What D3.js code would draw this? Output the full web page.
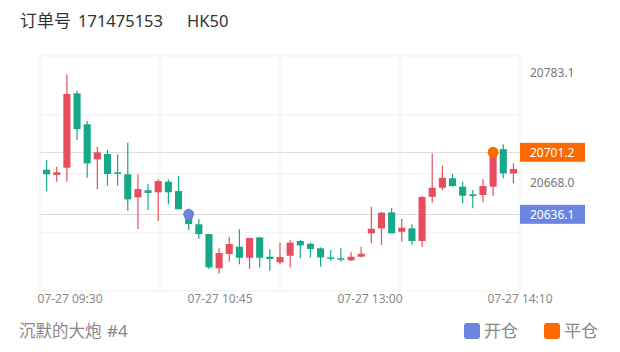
<!DOCTYPE html>
<html>
<head>
<meta charset="utf-8">
<script src="https://cdn.jsdelivr.net/npm/d3@7"></script>
<style>
  body { margin: 0; background: #fff; }
  svg { display: block; font-family: "Noto Sans", "Noto Sans CJK SC", sans-serif; }
</style>
</head>
<body>
<div class="chart"></div>
<script>
// 5 minute candles, red = up, green = down
var opens  = [20682.9, 20677.4, 20685.0, 20763.1, 20730.6, 20693.8, 20699.4, 20680.2, 20678.1, 20653.9,
              20661.3, 20659.2, 20670.3, 20660.6, 20638.5, 20625.6, 20615.4, 20579.4, 20594.4, 20602.1,
              20590.5, 20611.9, 20591.6, 20585.7, 20592.6, 20608.1, 20605.2, 20600.4, 20590.9, 20589.9,
              20587.8, 20591.6, 20616.1, 20621.4, 20638.2, 20617.8, 20621.4, 20608.1, 20654.5, 20664.0,
              20673.9, 20665.1, 20657.1, 20656.4, 20665.1, 20704.6, 20679.1];
var closes = [20678.1, 20680.2, 20762.4, 20725.6, 20689.6, 20701.2, 20678.4, 20679.1, 20651.8, 20662.6,
              20658.5, 20671.0, 20659.2, 20641.4, 20625.9, 20615.4, 20580.4, 20595.5, 20604.9, 20590.5,
              20611.2, 20590.5, 20589.2, 20591.3, 20606.3, 20603.5, 20599.7, 20590.9, 20589.9, 20588.4,
              20591.6, 20594.7, 20620.9, 20637.8, 20616.1, 20622.0, 20608.1, 20654.3, 20664.0, 20674.5,
              20665.8, 20655.6, 20655.3, 20665.8, 20701.2, 20679.1, 20683.7];
var highs  = [20693.1, 20686.1, 20783.1, 20765.9, 20734.0, 20707.1, 20703.6, 20699.1, 20711.3, 20678.1,
              20668.2, 20672.8, 20672.8, 20676.3, 20641.6, 20631.1, 20615.4, 20600.4, 20612.6, 20620.4,
              20611.2, 20611.9, 20599.3, 20606.3, 20609.1, 20609.1, 20606.3, 20601.4, 20598.6, 20600.4,
              20596.2, 20602.1, 20644.1, 20638.8, 20642.4, 20631.5, 20625.6, 20655.3, 20700.1, 20687.1,
              20678.4, 20670.3, 20661.6, 20673.1, 20704.6, 20709.6, 20689.6];
var lows   = [20660.6, 20670.3, 20670.3, 20714.1, 20674.5, 20662.3, 20666.1, 20666.1, 20639.6, 20620.3,
              20640.6, 20629.0, 20646.6, 20641.4, 20619.6, 20610.1, 20578.7, 20574.1, 20586.3, 20583.6,
              20578.7, 20580.4, 20576.9, 20583.9, 20580.4, 20589.9, 20590.9, 20581.1, 20587.4, 20586.3,
              20587.0, 20590.9, 20605.6, 20603.9, 20616.1, 20607.3, 20603.9, 20602.1, 20648.3, 20661.6,
              20665.1, 20647.6, 20642.4, 20648.7, 20655.3, 20673.9, 20668.6];

var axisPrices = [20783.1, 20668.0];
var timeLabels = ["07-27 09:30", "07-27 10:45", "07-27 13:00", "07-27 14:10"];
var timeLabelIdx = [2.94, 17.63, 32.31, 47];

// open / close of the order
var trades = [
  {name: "开仓", idx: 14, price: 20636.1, color: "#6a86e2"},
  {name: "平仓", idx: 44, price: 20701.2, color: "#ff6a00"}
];

var upColor = "#e84d5f", downColor = "#16a888";
var n = opens.length;

var svg = d3.select(".chart")
            .append("svg")
            .attr("width", 620)
            .attr("height", 352);

var x = d3.scaleBand()
          .domain(d3.range(n))
          .range([40, 520])
          .padding(0.3);
var xi = d3.scaleLinear()
           .domain([0, n])
           .range([40, 520]);
var y = d3.scaleLinear()
          .domain([20555.6, 20802.3])
          .range([291, 56]);

// grid
for (i = 0; i <= 4; i++) {
  svg.append("line")
     .attr("x1", 40).attr("x2", 520)
     .attr("y1", 56 + i * (291 - 56) / 4)
     .attr("y2", 56 + i * (291 - 56) / 4)
     .attr("stroke", "#f1f1f1")
     .attr("stroke-width", 1);
  svg.append("line")
     .attr("x1", xi(n * i / 4)).attr("x2", xi(n * i / 4))
     .attr("y1", 56).attr("y2", 291)
     .attr("stroke", "#f1f1f1")
     .attr("stroke-width", 1);
}

// order price lines
svg.selectAll(".pline")
   .data(trades)
   .enter().append("line")
   .attr("x1", 40).attr("x2", 520)
   .attr("y1", function(d) { return Math.round(y(d.price)) + 0.5; })
   .attr("y2", function(d) { return Math.round(y(d.price)) + 0.5; })
   .attr("stroke", "#dcdcdc")
   .attr("stroke-width", 1);

// candles
var candles = svg.selectAll(".candle")
                 .data(d3.range(n))
                 .enter().append("g");
candles.append("line")
       .attr("x1", function(i) { return x(i) + x.bandwidth() / 2; })
       .attr("x2", function(i) { return x(i) + x.bandwidth() / 2; })
       .attr("y1", function(i) { return y(highs[i]); })
       .attr("y2", function(i) { return y(lows[i]); })
       .attr("stroke", function(i) { return closes[i] >= opens[i] ? upColor : downColor; })
       .attr("stroke-width", 1.2);
candles.append("rect")
       .attr("x", function(i) { return x(i); })
       .attr("width", x.bandwidth())
       .attr("y", function(i) { return y(Math.max(opens[i], closes[i])); })
       .attr("height", function(i) { return Math.max(1.5, Math.abs(y(opens[i]) - y(closes[i]))); })
       .attr("fill", function(i) { return closes[i] >= opens[i] ? upColor : downColor; });

// trade markers
svg.selectAll(".marker")
   .data(trades)
   .enter().append("circle")
   .attr("cx", function(d) { return x(d.idx) + x.bandwidth() / 2; })
   .attr("cy", function(d) { return y(d.price); })
   .attr("r", 5.5)
   .attr("fill", function(d) { return d.color; });

// right axis labels
svg.selectAll(".ylab")
   .data(axisPrices)
   .enter().append("text")
   .attr("x", 530)
   .attr("y", function(d) { return y(d) - 1.5; })
   .attr("dy", "0.35em")
   .style("font-size", "12px")
   .style("fill", "#777")
   .text(function(d) { return d.toFixed(1); });

// price tags
var tags = svg.selectAll(".tag")
              .data(trades)
              .enter().append("g");
tags.append("rect")
    .attr("x", 520)
    .attr("y", function(d) { return y(d.price) - 9.5; })
    .attr("width", 65)
    .attr("height", 19)
    .attr("fill", function(d) { return d.color; });
tags.append("text")
    .attr("x", 530)
    .attr("y", function(d) { return y(d.price); })
    .attr("dy", "0.35em")
    .style("font-size", "12px")
    .style("fill", "#fff")
    .text(function(d) { return d.price.toFixed(1); });

// time labels
svg.selectAll(".xlab")
   .data(timeLabels)
   .enter().append("text")
   .attr("text-anchor", "middle")
   .attr("x", function(d, i) { return xi(timeLabelIdx[i]); })
   .attr("y", 299)
   .attr("dy", "0.35em")
   .style("font-size", "12px")
   .style("fill", "#888")
   .text(function(d) { return d; });

// title
svg.append("text")
   .attr("x", 20).attr("y", 21).attr("dy", "0.35em")
   .style("font-size", "17px").style("fill", "#333")
   .text("订单号");
svg.append("text")
   .attr("x", 78).attr("y", 21).attr("dy", "0.35em")
   .style("font-size", "16.5px").style("fill", "#333")
   .text("171475153");
svg.append("text")
   .attr("x", 187).attr("y", 21).attr("dy", "0.35em")
   .style("font-size", "16.5px").style("fill", "#333")
   .text("HK50");

// footer
svg.append("text")
   .attr("x", 19).attr("y", 331).attr("dy", "0.35em")
   .style("font-size", "16.5px").style("fill", "#888")
   .text("沉默的大炮");
svg.append("text")
   .attr("x", 107).attr("y", 331).attr("dy", "0.35em")
   .style("font-size", "17px").style("fill", "#888")
   .text("#4");

// legend
var leg = svg.selectAll(".leg")
             .data(trades)
             .enter().append("g")
             .attr("transform", function(d, i) { return "translate(" + (464 + i * 80) + ",331)"; });
leg.append("rect")
   .attr("x", 0).attr("y", -8)
   .attr("width", 16).attr("height", 16)
   .attr("rx", 3)
   .attr("fill", function(d) { return d.color; });
leg.append("text")
   .attr("x", 20).attr("dy", "0.35em")
   .style("font-size", "17px").style("fill", "#888")
   .text(function(d) { return d.name; });
</script>
</body>
</html>
